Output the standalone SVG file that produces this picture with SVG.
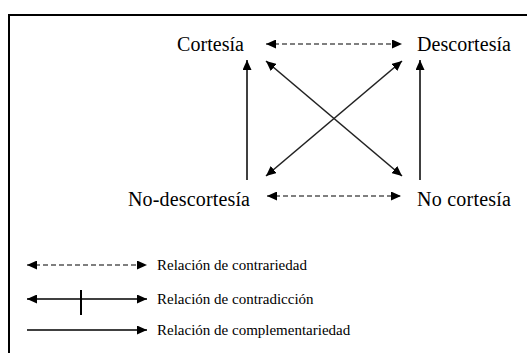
<svg xmlns="http://www.w3.org/2000/svg" width="527" height="353" viewBox="0 0 527 353">
<style>
.lbl{font-family:"Liberation Serif","Times New Roman",serif;font-size:20px;fill:#000}
.leg{font-family:"Liberation Serif","Times New Roman",serif;font-size:15px;fill:#000}
.dash{stroke:#000;stroke-width:1.2;stroke-dasharray:5 3;fill:none}
.solid{stroke:#000;stroke-width:1.5;fill:none}
.diag{stroke:#222;stroke-width:1.6;fill:none}
</style>
<defs>
<marker id="ah" viewBox="0 0 10 9" refX="10" refY="4.5" markerWidth="10" markerHeight="9" markerUnits="userSpaceOnUse" orient="auto-start-reverse">
<path d="M0,0 L10,4.5 L0,9 z" fill="#000"/>
</marker>
</defs>
<rect width="527" height="353" fill="#fff"/>
<path d="M9,353 V15 H527" fill="none" stroke="#000" stroke-width="2"/>
<g id="n-cortesia"><text class="lbl" x="177" y="51" textLength="67" lengthAdjust="spacing">Cortesía</text></g>
<g id="n-descortesia"><text class="lbl" x="417" y="51" textLength="94" lengthAdjust="spacing">Descortesía</text></g>
<g id="n-nodescortesia"><text class="lbl" x="128" y="206" textLength="122" lengthAdjust="spacing">No-descortesía</text></g>
<g id="n-nocortesia"><text class="lbl" x="417" y="206" textLength="94" lengthAdjust="spacing">No cortesía</text></g>
<g id="connectors">
<line class="dash" x1="266" y1="44" x2="402" y2="44" marker-start="url(#ah)" marker-end="url(#ah)"/>
<line class="dash" x1="267" y1="196" x2="401" y2="196" marker-start="url(#ah)" marker-end="url(#ah)"/>
<line class="solid" x1="247" y1="180" x2="247" y2="60" marker-end="url(#ah)"/>
<line class="solid" x1="420" y1="180" x2="420" y2="60" marker-end="url(#ah)"/>
<line class="diag" x1="266" y1="61" x2="402" y2="176" marker-start="url(#ah)" marker-end="url(#ah)"/>
<line class="diag" x1="402" y1="61" x2="266" y2="176" marker-start="url(#ah)" marker-end="url(#ah)"/>
</g>
<g id="legend">
<line class="dash" x1="27" y1="265" x2="147" y2="265" marker-start="url(#ah)" marker-end="url(#ah)"/>
<text class="leg" x="157" y="270">Relación de contrariedad</text>
<line class="solid" x1="27" y1="299" x2="147" y2="299" marker-start="url(#ah)" marker-end="url(#ah)"/>
<line x1="81" y1="290" x2="81" y2="315" stroke="#000" stroke-width="2"/>
<text class="leg" x="157" y="304">Relación de contradicción</text>
<line class="solid" x1="27" y1="330" x2="147" y2="330" marker-end="url(#ah)"/>
<text class="leg" x="157" y="335">Relación de complementariedad</text>
</g>
</svg>
